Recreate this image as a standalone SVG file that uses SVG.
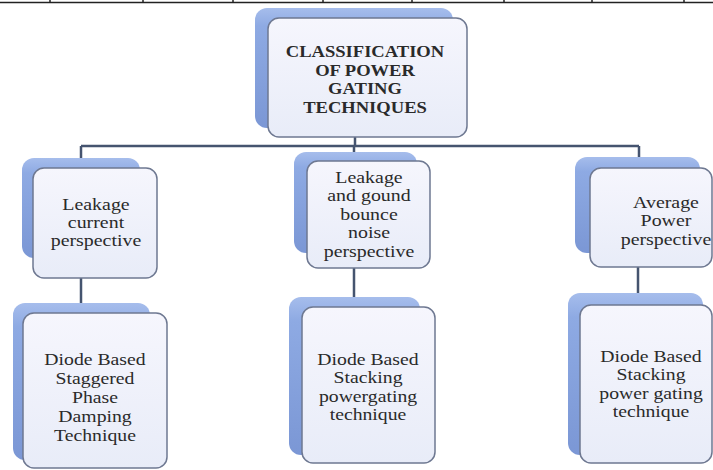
<svg xmlns="http://www.w3.org/2000/svg" width="713" height="470" viewBox="0 0 713 470">
<defs>
<linearGradient id="gBack" x1="0" y1="0" x2="0" y2="1">
<stop offset="0" stop-color="#a6bdec"/>
<stop offset="0.15" stop-color="#8eaae3"/>
<stop offset="1" stop-color="#7b97d5"/>
</linearGradient>
<linearGradient id="gFront" x1="0" y1="0" x2="0" y2="1">
<stop offset="0" stop-color="#f6f6fd"/>
<stop offset="1" stop-color="#e8ecf8"/>
</linearGradient>
</defs>
<style>
.back{fill:url(#gBack);}
.front{fill:url(#gFront);stroke:#6e7891;stroke-width:1.5;}
.conn{stroke:#45546f;stroke-width:2.5;fill:none;}
text{font-family:'Liberation Serif','DejaVu Serif','Noto Serif',Times,serif;}
.t{font-family:'Liberation Serif','DejaVu Serif','Noto Serif',Times,serif;font-size:17px;fill:#2a2a2a;text-anchor:middle;}
.tb{font-family:'Liberation Serif','DejaVu Serif','Noto Serif',Times,serif;font-size:16px;font-weight:bold;fill:#2a2a2a;text-anchor:middle;}
.rule{stroke:#222;stroke-width:1.5;}
</style>
<rect width="713" height="470" fill="#ffffff"/>
<g id="topRule">
<line class="rule" x1="0" y1="2.5" x2="713" y2="2.5"/>
<path class="rule" d="M50 0V3M143 0V3M233 0V3M323 0V3M412 0V3M504 0V3M592 0V3M684 0V3"/>
</g>
<g id="connectors">
<path class="conn" d="M355 137V146M81 146H639M81 146V158M354 146V152M639 146V157"/>
<path class="conn" d="M81 278V303M354 268V297M638 267V293"/>
</g>
<g id="root">
<rect class="back" x="255" y="8" width="198" height="120" rx="12"/>
<rect class="front" x="268" y="18" width="199" height="119" rx="11"/>
<g transform="translate(365,0) scale(1.16,1)">
<text class="tb" x="0" y="57" style="font-family:'Liberation Serif',serif">CLASSIFICATION</text>
<text class="tb" x="0" y="76" style="font-family:'Liberation Serif',serif">OF POWER</text>
<text class="tb" x="0" y="94" style="font-family:'Liberation Serif',serif">GATING</text>
<text class="tb" x="0" y="113" style="font-family:'Liberation Serif',serif">TECHNIQUES</text>
</g>
</g>
<g id="leakageCurrent">
<rect class="back" x="22" y="158" width="118" height="100" rx="12"/>
<rect class="front" x="33" y="168" width="124" height="110" rx="11"/>
<g transform="translate(96,0) scale(1.17,1)">
<text class="t" x="0" y="210" style="font-family:'Liberation Serif',serif">Leakage</text>
<text class="t" x="0" y="228" style="font-family:'Liberation Serif',serif">current</text>
<text class="t" x="0" y="246" style="font-family:'Liberation Serif',serif">perspective</text>
</g>
</g>
<g id="leakageGround">
<rect class="back" x="294" y="152" width="123" height="101" rx="12"/>
<rect class="front" x="307" y="161" width="123" height="107" rx="11"/>
<g transform="translate(369,0) scale(1.17,1)">
<text class="t" x="0" y="183" style="font-family:'Liberation Serif',serif">Leakage</text>
<text class="t" x="0" y="201.5" style="font-family:'Liberation Serif',serif">and gound</text>
<text class="t" x="0" y="220" style="font-family:'Liberation Serif',serif">bounce</text>
<text class="t" x="0" y="238.5" style="font-family:'Liberation Serif',serif">noise</text>
<text class="t" x="0" y="257" style="font-family:'Liberation Serif',serif">perspective</text>
</g>
</g>
<g id="averagePower">
<rect class="back" x="575" y="157" width="125" height="96" rx="12"/>
<rect class="front" x="590" y="168" width="122" height="99" rx="11"/>
<g transform="translate(666,0) scale(1.17,1)">
<text class="t" x="0" y="208" style="font-family:'Liberation Serif',serif">Average</text>
<text class="t" x="0" y="226.5" style="font-family:'Liberation Serif',serif">Power</text>
<text class="t" x="0" y="245" style="font-family:'Liberation Serif',serif">perspective</text>
</g>
</g>
<g id="staggered">
<rect class="back" x="13" y="303" width="137" height="157" rx="12"/>
<rect class="front" x="23" y="313" width="144" height="155" rx="11"/>
<g transform="translate(95,0) scale(1.16,1)">
<text class="t" x="0" y="365" style="font-family:'Liberation Serif',serif">Diode Based</text>
<text class="t" x="0" y="384" style="font-family:'Liberation Serif',serif">Staggered</text>
<text class="t" x="0" y="403" style="font-family:'Liberation Serif',serif">Phase</text>
<text class="t" x="0" y="422" style="font-family:'Liberation Serif',serif">Damping</text>
<text class="t" x="0" y="441" style="font-family:'Liberation Serif',serif">Technique</text>
</g>
</g>
<g id="stackingMid">
<rect class="back" x="289" y="297" width="131" height="158" rx="12"/>
<rect class="front" x="302" y="307" width="133" height="156" rx="11"/>
<g transform="translate(368,0) scale(1.16,1)">
<text class="t" x="0" y="365" style="font-family:'Liberation Serif',serif">Diode Based</text>
<text class="t" x="0" y="383.5" style="font-family:'Liberation Serif',serif">Stacking</text>
<text class="t" x="0" y="402" style="font-family:'Liberation Serif',serif">powergating</text>
<text class="t" x="0" y="420.5" style="font-family:'Liberation Serif',serif">technique</text>
</g>
</g>
<g id="stackingRight">
<rect class="back" x="568" y="293" width="135" height="162" rx="12"/>
<rect class="front" x="580" y="305" width="132" height="158" rx="11"/>
<g transform="translate(651,0) scale(1.16,1)">
<text class="t" x="0" y="362" style="font-family:'Liberation Serif',serif">Diode Based</text>
<text class="t" x="0" y="380.5" style="font-family:'Liberation Serif',serif">Stacking</text>
<text class="t" x="0" y="399" style="font-family:'Liberation Serif',serif">power gating</text>
<text class="t" x="0" y="417.5" style="font-family:'Liberation Serif',serif">technique</text>
</g>
</g>
</svg>
